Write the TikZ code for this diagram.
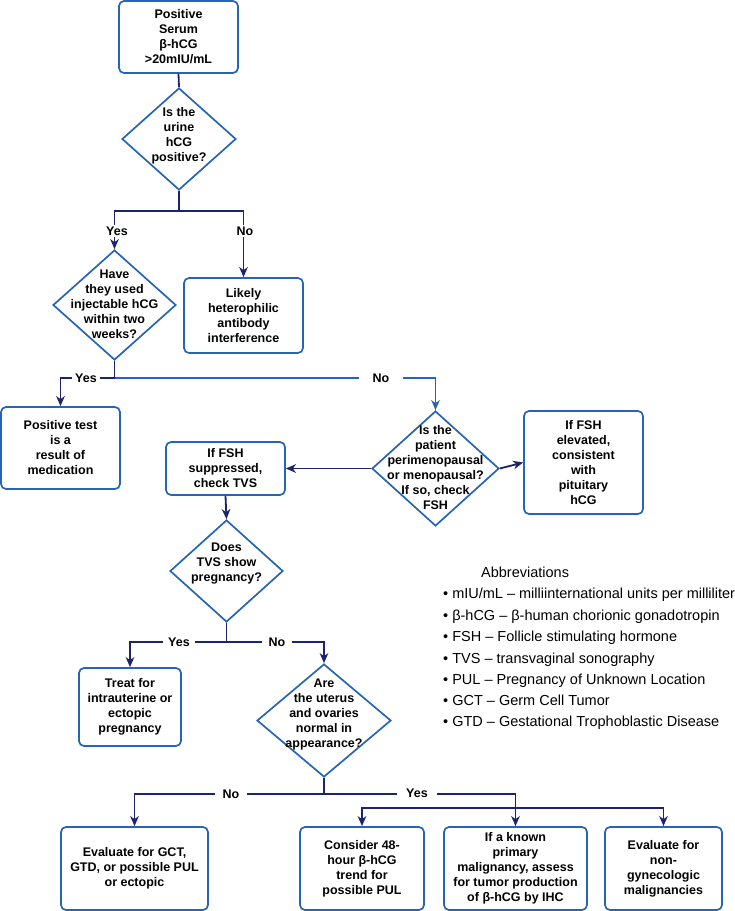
\documentclass[tikz,border=0pt]{standalone}
\usepackage{fontspec}
\setmainfont{Liberation Sans}
\usetikzlibrary{shapes.geometric,arrows.meta}
\definecolor{boxblue}{RGB}{38,100,180}
\definecolor{navy}{RGB}{28,36,110}
\newcommand\bxfont{\fontsize{12.5}{15}\selectfont\bfseries}
\newcommand\abfont{\fontsize{14.5}{17}\selectfont}
\tikzset{
  box/.style={draw=boxblue, line width=1.7pt, rounded corners=5pt, align=center, inner sep=0pt, font=\bxfont},
  dia/.style={draw=boxblue, line width=1.7pt, diamond, inner sep=0pt},
  txt/.style={align=center, font=\bxfont, inner sep=0pt},
  conn/.style={draw=navy, line width=1.8pt},
  arr/.style={conn, -{Stealth[length=10pt,width=8.5pt,inset=3pt]}},
  lbl/.style={fill=white, font=\bxfont, inner xsep=6pt, inner ysep=2pt},
  abb/.style={anchor=base west, font=\abfont, inner sep=0pt}
}
\begin{document}
\begin{tikzpicture}[x=1pt,y=-1pt]
\useasboundingbox (0,0) rectangle (735,911);
% boxes
\node[box, minimum width=119pt, minimum height=72pt] (b1) at (178.5,37) {Positive\\Serum\\β-hCG\\>20mIU/mL};
\node[box, minimum width=119pt, minimum height=75pt] (b2) at (243.5,315.5) {Likely\\heterophilic\\antibody\\interference};
\node[box, minimum width=119pt, minimum height=82pt] (b3) at (60.5,448) {Positive test\\is a\\result of\\medication};
\node[box, minimum width=119pt, minimum height=53pt] (b4) at (225.5,468.5) {If FSH\\suppressed,\\check TVS};
\node[box, minimum width=119pt, minimum height=103pt] (b5) at (583.5,462.5) {If FSH\\elevated,\\consistent\\with\\pituitary\\hCG};
\node[box, minimum width=102pt, minimum height=78pt] (b6) at (130,707) {Treat for\\intrauterine or\\ectopic\\pregnancy};
\node[box, minimum width=147pt, minimum height=83pt] (b7) at (134.5,868.5) {Evaluate for GCT,\\GTD, or possible PUL\\or ectopic};
\node[box, minimum width=124pt, minimum height=83pt] (b8) at (362,868.5) {Consider 48-\\hour β-hCG\\trend for\\possible PUL};
\node[box, minimum width=143pt, minimum height=83pt] (b9) at (515.5,868.5) {If a known\\primary\\malignancy, assess\\for tumor production\\of β-hCG by IHC};
\node[box, minimum width=117pt, minimum height=83pt] (b10) at (663.5,868.5) {Evaluate for\\non-\\gynecologic\\malignancies};
% diamonds
\node[dia, minimum width=114pt, minimum height=102pt] (d1) at (179,139) {};
\node[txt] (d1t) at (179,136) {Is the\\urine\\hCG\\positive?};
\node[dia, minimum width=123pt, minimum height=110pt] (d2) at (114.5,305) {};
\node[txt] (d2t) at (114.5,304) {Have\\they used\\injectable hCG\\within two\\weeks?};
\node[dia, minimum width=127pt, minimum height=115pt] (d3) at (435.5,468.5) {};
\node[txt] (d3t) at (435.5,467.5) {Is the\\patient\\perimenopausal\\or menopausal?\\If so, check\\FSH};
\node[dia, minimum width=113pt, minimum height=102pt] (d4) at (226.5,571) {};
\node[txt] (d4t) at (226.5,564) {Does\\TVS show\\pregnancy?};
\node[dia, minimum width=134pt, minimum height=113pt] (d5) at (324,720.5) {};
\node[txt] (d5t) at (324,714) {Are\\the uterus\\and ovaries\\normal in\\appearance?};
% connectors
\coordinate (j1) at (179,211);
\draw[conn] (b1.south) -- (d1.north);
\draw[conn] (d1.south) -- (j1);
\draw[arr] (j1) -| (d2.north);
\draw[arr] (j1) -| (b2.north);
\coordinate (j2) at (114.5,378);
\draw[conn] (d2.south) -- (j2);
\draw[arr] (j2) -| (b3.north);
\draw[arr, draw=boxblue] (j2) -| (d3.north);
\draw[arr] (d3.west) -- (b4.east);
\draw[arr] (d3.east) -- (b5.west);
\draw[arr] (b4.south) -- (d4.north);
\coordinate (j4) at (226.5,642);
\draw[conn] (d4.south) -- (j4);
\draw[arr] (j4) -| (b6.north);
\draw[arr] (j4) -| (d5.north);
\coordinate (j5) at (324,794);
\coordinate (j6) at (515.5,808);
\draw[conn] (d5.south) -- (j5);
\draw[arr] (j5) -| (b7.north);
\draw[conn] (j5) -| (j6);
\draw[arr] (j6) -- (b9.north);
\draw[arr] (j6) -| (b8.north);
\draw[arr] (j6) -| (b10.north);
% labels
\node[lbl] (l1) at (117,231) {Yes};
\node[lbl] (l2) at (245,231) {No};
\node[lbl, inner xsep=3.5pt] (l3) at (86,378) {Yes};
\node[lbl, inner xsep=14pt] (l4) at (381,378) {No};
\node[lbl, inner xsep=5pt] (l5) at (179,642) {Yes};
\node[lbl, inner xsep=7pt] (l6) at (277,642) {No};
\node[lbl, inner xsep=8pt] (l7) at (231,794) {No};
\node[lbl, inner xsep=9pt] (l8) at (417,793) {Yes};
% abbreviations
\node[abb] (a0) at (481,577) {Abbreviations};
\node[abb] (a1) at (443,598) {• mIU/mL – milliinternational units per milliliter};
\node[abb] (a2) at (443,620) {• β-hCG – β-human chorionic gonadotropin};
\node[abb] (a3) at (443,641) {• FSH – Follicle stimulating hormone};
\node[abb] (a4) at (443,663) {• TVS – transvaginal sonography};
\node[abb] (a5) at (443,684) {• PUL – Pregnancy of Unknown Location};
\node[abb] (a6) at (443,705) {• GCT – Germ Cell Tumor};
\node[abb] (a7) at (443,726) {• GTD – Gestational Trophoblastic Disease};
\end{tikzpicture}
\end{document}
